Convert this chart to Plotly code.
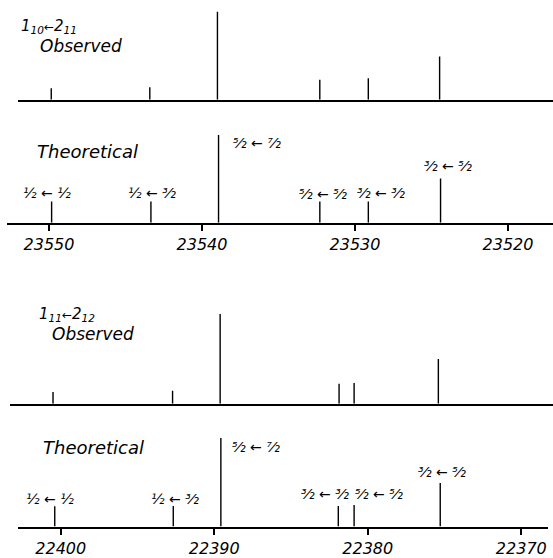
import plotly.graph_objects as go

# ---------------- data ----------------
# Panel 1: 1_10 <- 2_11
top_obs_freq = [23549.85, 23543.41, 23538.99, 23532.30, 23529.13, 23524.47]
top_obs_int = [13.1, 14.2, 100, 22.7, 24.3, 48.9]
top_theo_freq = [23549.83, 23543.34, 23538.92, 23532.30, 23529.13, 23524.41]
top_theo_int = [24.4, 24.4, 100, 24.4, 24.4, 50.6]
top_theo_labels = ["½ ← ½", "½ ← ³⁄₂", "⁵⁄₂ ← ⁷⁄₂", "⁵⁄₂ ← ⁵⁄₂", "³⁄₂ ← ³⁄₂", "³⁄₂ ← ⁵⁄₂"]
top_ticks = [23550, 23540, 23530, 23520]

# Panel 2: 1_11 <- 2_12
bot_obs_freq = [22400.51, 22392.72, 22389.62, 22381.87, 22380.89, 22375.40]
bot_obs_int = [13.2, 14.6, 100, 22.3, 23.1, 49.8]
bot_theo_freq = [22400.39, 22392.67, 22389.57, 22381.92, 22380.89, 22375.28]
bot_theo_int = [23.0, 23.3, 100, 23.3, 24.4, 49.2]
bot_theo_labels = ["½ ← ½", "½ ← ³⁄₂", "⁵⁄₂ ← ⁷⁄₂", "³⁄₂ ← ³⁄₂", "⁵⁄₂ ← ⁵⁄₂", "³⁄₂ ← ⁵⁄₂"]
bot_ticks = [22400, 22390, 22380, 22370]

W, H = 553, 558
FONT = "DejaVu Sans"


def sticks(freq, inten):
    xs, ys = [], []
    for f, i in zip(freq, inten):
        xs += [f, f, None]
        ys += [0, i, None]
    return xs, ys


fig = go.Figure()
panels = [
    (top_obs_freq, top_obs_int, "x", "y"),
    (top_theo_freq, top_theo_int, "x2", "y2"),
    (bot_obs_freq, bot_obs_int, "x3", "y3"),
    (bot_theo_freq, bot_theo_int, "x4", "y4"),
]
for freq, inten, xa, ya in panels:
    xs, ys = sticks(freq, inten)
    fig.add_trace(go.Scatter(x=xs, y=ys, mode="lines", xaxis=xa, yaxis=ya,
                             line=dict(color="black", width=1.4),
                             hoverinfo="skip", showlegend=False))


def py(p):
    return 1 - p / H


def px(p):
    return p / W


axis_common = dict(showline=True, linecolor="black", linewidth=2, showgrid=False,
                   zeroline=False)
tickfont = dict(family=FONT, size=16, color="black", style="italic")
tick_common = dict(ticks="outside", ticklen=6, tickwidth=1.5, tickcolor="black",
                   tickfont=tickfont, tickformat="d")

fig.update_layout(
    width=W, height=H,
    margin=dict(l=0, r=0, t=0, b=0),
    paper_bgcolor="white", plot_bgcolor="white",
    xaxis=dict(domain=[px(17.6), 1], range=[23552.05, 23517.06], anchor="y",
               showticklabels=False, ticks="", **axis_common),
    xaxis2=dict(domain=[px(7.1), 1], range=[23552.74, 23517.06], anchor="y2",
                tickvals=top_ticks, **tick_common, **axis_common),
    xaxis3=dict(domain=[px(9.9), 1], range=[22403.32, 22367.93], anchor="y3",
                showticklabels=False, ticks="", **axis_common),
    xaxis4=dict(domain=[px(17.6), px(548)], range=[22402.81, 22368.26], anchor="y4",
                tickvals=bot_ticks, **tick_common, **axis_common),
    yaxis=dict(domain=[py(101), py(11.7)], range=[0, 100], visible=False),
    yaxis2=dict(domain=[py(225.7), py(136.7)], range=[0, 100], visible=False),
    yaxis3=dict(domain=[py(409), py(318)], range=[0, 100], visible=False),
    yaxis4=dict(domain=[py(533.3), py(443.3)], range=[0, 100], visible=False),
)

ann = []
title_font = dict(family=FONT, size=17, color="black", style="italic")
head_font = dict(family=FONT, size=15, color="black", style="italic")
arrow = "<span style='font-size:12px'>←</span>"
ann.append(dict(text="1<sub>10</sub>" + arrow + "2<sub>11</sub>", x=px(19), y=py(27),
                xref="paper", yref="paper", xanchor="left", yanchor="middle",
                showarrow=False, font=head_font))
ann.append(dict(text="Observed", x=px(38), y=py(47), xref="paper", yref="paper",
                xanchor="left", yanchor="middle", showarrow=False, font=title_font))
ann.append(dict(text="Theoretical", x=px(35), y=py(153), xref="paper", yref="paper",
                xanchor="left", yanchor="middle", showarrow=False,
                font=dict(family=FONT, size=18, color="black", style="italic")))
ann.append(dict(text="1<sub>11</sub>" + arrow + "2<sub>12</sub>", x=px(37), y=py(319),
                xref="paper", yref="paper", xanchor="left", yanchor="middle",
                showarrow=False, font=head_font))
ann.append(dict(text="Observed", x=px(50), y=py(338), xref="paper", yref="paper",
                xanchor="left", yanchor="middle", showarrow=False, font=title_font))
ann.append(dict(text="Theoretical", x=px(41), y=py(453), xref="paper", yref="paper",
                xanchor="left", yanchor="middle", showarrow=False,
                font=dict(family=FONT, size=18, color="black", style="italic")))

lab_font = dict(family=FONT, size=14, color="black", style="italic")
top_shift = [-5, 1, 38, 3, 13, 7]
top_ly = [195, 195, 145, 196, 195, 168]
for f, t, s, yy in zip(top_theo_freq, top_theo_labels, top_shift, top_ly):
    ann.append(dict(text=t, x=f, xref="x2", y=py(yy), yref="paper", xshift=s,
                    xanchor="center", yanchor="middle", showarrow=False, font=lab_font))
bot_shift = [-5, 2, 35, -13, 25, 2]
bot_ly = [505, 505, 453, 500, 500, 478]
for f, t, s, yy in zip(bot_theo_freq, bot_theo_labels, bot_shift, bot_ly):
    ann.append(dict(text=t, x=f, xref="x4", y=py(yy), yref="paper", xshift=s,
                    xanchor="center", yanchor="middle", showarrow=False, font=lab_font))

fig.update_layout(annotations=ann)
fig.write_html("out.html", config={"displayModeBar": False},
               post_script="document.body.style.margin='0';document.body.style.overflow='hidden';")
